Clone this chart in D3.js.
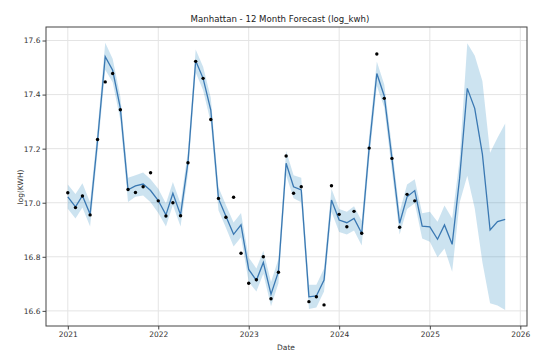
<!DOCTYPE html>
<html>
<head>
<meta charset="utf-8">
<script src="https://cdn.jsdelivr.net/npm/d3@7"></script>
<style>
  html, body { margin: 0; padding: 0; background: #fff; }
  svg { display: block; font-family: "DejaVu Sans", sans-serif; }
</style>
</head>
<body>
<svg id="chart" width="535" height="356"></svg>
<script>
// ---- data ----
const title = "Manhattan - 12 Month Forecast (log_kwh)";
const xLabel = "Date";
const yLabel = "log(KWH)";
const startMonth = "2021-01";            // first month of the series (monthly)
const yTicks = [16.6, 16.8, 17.0, 17.2, 17.4, 17.6];
const xTickYears = [2021, 2022, 2023, 2024, 2025, 2026];

// observed monthly values, Jan 2021 .. Nov 2024
const actual = [
  17.037, 16.982, 17.025, 16.955, 17.234, 17.447, 17.478, 17.344, 17.049, 17.038, 17.059, 17.111,
  17.007, 16.951, 17.000, 16.952, 17.148, 17.523, 17.460, 17.308, 17.016, 16.946, 17.020, 16.813,
  16.702, 16.715, 16.800, 16.645, 16.743, 17.173, 17.035, 17.059, 16.634, 16.652, 16.622, 17.063,
  16.957, 16.911, 16.968, 16.887, 17.202, 17.550, 17.386, 17.164, 16.909, 17.031, 17.007
];

// model fit + forecast, Jan 2021 .. Nov 2025
const yhat = [
  17.022, 16.985, 17.026, 16.957, 17.230, 17.540, 17.490, 17.350, 17.048, 17.062, 17.069, 17.045,
  17.008, 16.955, 17.035, 16.955, 17.150, 17.525, 17.460, 17.343, 17.015, 16.950, 16.883, 16.918,
  16.753, 16.713, 16.779, 16.662, 16.745, 17.146, 17.059, 17.047, 16.652, 16.655, 16.714, 17.010,
  16.936, 16.926, 16.942, 16.887, 17.202, 17.478, 17.395, 17.164, 16.924, 17.022, 17.045, 16.913,
  16.911, 16.865, 16.918, 16.846, 17.090, 17.423, 17.349, 17.180, 16.899, 16.930, 16.938
];
const yhatLower = [
  16.978, 16.942, 16.982, 16.912, 17.188, 17.492, 17.446, 17.306, 17.003, 17.022, 17.027, 17.002,
  16.962, 16.912, 16.992, 16.912, 17.107, 17.482, 17.416, 17.297, 16.972, 16.907, 16.838, 16.872,
  16.707, 16.672, 16.737, 16.617, 16.702, 17.102, 17.017, 17.002, 16.607, 16.612, 16.672, 16.967,
  16.892, 16.882, 16.897, 16.842, 17.157, 17.432, 17.352, 17.117, 16.882, 16.977, 16.998, 16.868,
  16.856, 16.798, 16.831, 16.745, 17.000, 17.100, 16.980, 16.780, 16.628, 16.620, 16.603
];
const yhatUpper = [
  17.067, 17.032, 17.072, 17.002, 17.272, 17.592, 17.533, 17.393, 17.092, 17.102, 17.112, 17.087,
  17.052, 16.997, 17.077, 16.997, 17.192, 17.567, 17.503, 17.388, 17.057, 16.992, 16.927, 16.962,
  16.797, 16.757, 16.822, 16.707, 16.792, 17.192, 17.102, 17.092, 16.697, 16.697, 16.757, 17.052,
  16.977, 16.967, 16.987, 16.932, 17.247, 17.522, 17.437, 17.207, 16.967, 17.067, 17.087, 16.961,
  16.967, 16.930, 16.990, 16.942, 17.160, 17.590, 17.545, 17.450, 17.185, 17.240, 17.293
];

// ---- layout ----
const svg = d3.select("#chart");
const plot = { left: 46, right: 527, top: 27, bottom: 326 };

const parse = d3.timeParse("%Y-%m");
const t0 = parse(startMonth);
const monthDate = i => d3.timeMonth.offset(t0, i);

const x = d3.scaleTime()
  .domain([new Date(2020, 9, 5), new Date(2026, 0, 28)])
  .range([plot.left, plot.right]);
const y = d3.scaleLinear()
  .domain([16.544, 17.650])
  .range([plot.bottom, plot.top]);

// grid
const grid = svg.append("g");
grid.selectAll("line.gx").data(xTickYears).enter().append("line")
  .attr("x1", d => x(new Date(d, 0, 1))).attr("x2", d => x(new Date(d, 0, 1)))
  .attr("y1", plot.top).attr("y2", plot.bottom)
  .attr("stroke", "#e4e4e4").attr("stroke-width", 1);
grid.selectAll("line.gy").data(yTicks).enter().append("line")
  .attr("x1", plot.left).attr("x2", plot.right)
  .attr("y1", d => y(d)).attr("y2", d => y(d))
  .attr("stroke", "#e4e4e4").attr("stroke-width", 1);

// band
const fc = yhat.map((v, i) => ({ d: monthDate(i), v, lo: yhatLower[i], hi: yhatUpper[i] }));
svg.append("path").datum(fc)
  .attr("d", d3.area().x(d => x(d.d)).y0(d => y(d.lo)).y1(d => y(d.hi)))
  .attr("fill", "#0072B2").attr("fill-opacity", 0.2);

// fit line
svg.append("path").datum(fc)
  .attr("d", d3.line().x(d => x(d.d)).y(d => y(d.v)))
  .attr("fill", "none").attr("stroke", "#3a78b2").attr("stroke-width", 1.3);

// observed points
svg.append("g").selectAll("circle").data(actual).enter().append("circle")
  .attr("cx", (d, i) => x(monthDate(i))).attr("cy", d => y(d))
  .attr("r", 1.7).attr("fill", "#000");

// axes
const xAxis = d3.axisBottom(x)
  .tickValues(xTickYears.map(yr => new Date(yr, 0, 1)))
  .tickFormat(d3.timeFormat("%Y")).tickSize(3.5).tickPadding(2);
const gx = svg.append("g").attr("transform", `translate(0,${plot.bottom})`).call(xAxis);
const yAxis = d3.axisLeft(y).tickValues(yTicks).tickFormat(d3.format(".1f")).tickSize(3.5).tickPadding(2);
const gy = svg.append("g").attr("transform", `translate(${plot.left},0)`).call(yAxis);
[gx, gy].forEach(g => {
  g.select(".domain").remove();
  g.selectAll(".tick line").attr("stroke", "#444");
  g.selectAll(".tick text").attr("fill", "#333").style("font-size", "7.5px")
    .style("font-family", "DejaVu Sans, sans-serif");
});

// frame
svg.append("rect")
  .attr("x", plot.left).attr("y", plot.top)
  .attr("width", plot.right - plot.left).attr("height", plot.bottom - plot.top)
  .attr("fill", "none").attr("stroke", "#444").attr("stroke-width", 1);

// titles
svg.append("text").attr("x", 280).attr("y", 22).attr("text-anchor", "middle")
  .style("font-size", "8.6px").attr("fill", "#222").text(title);
svg.append("text").attr("x", 286).attr("y", 350).attr("text-anchor", "middle")
  .style("font-size", "7.5px").attr("fill", "#333").text(xLabel);
svg.append("text").attr("transform", "translate(23,187) rotate(-90)").attr("text-anchor", "middle")
  .style("font-size", "7.5px").attr("fill", "#333").text(yLabel);
</script>
</body>
</html>
